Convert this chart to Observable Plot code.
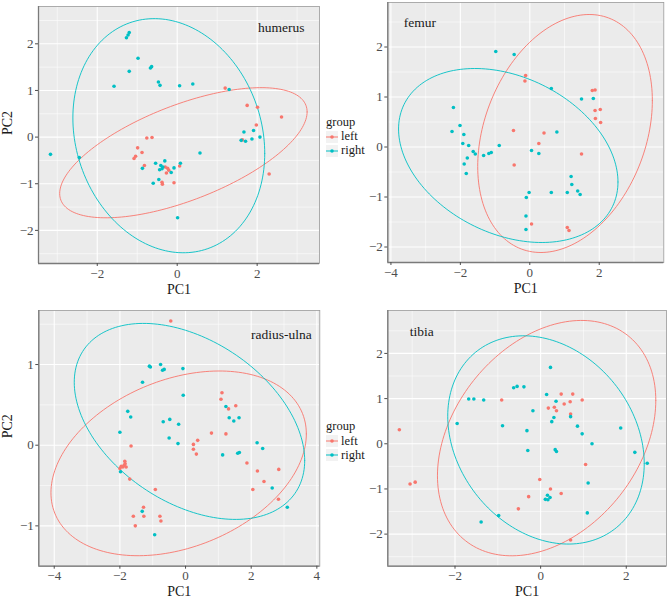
<!DOCTYPE html>
<html><head><meta charset="utf-8">
<script src="https://cdn.jsdelivr.net/npm/d3@7"></script>
<script src="https://cdn.jsdelivr.net/npm/@observablehq/plot@0.6"></script>
<style>
html,body{margin:0;padding:0;background:#fff;}
#wrap{position:relative;width:669px;height:601px;font-family:'Liberation Serif','Times New Roman',Times,'DejaVu Serif',serif;}
#wrap svg{position:absolute;}
#wrap svg text{font-family:'Liberation Serif','Times New Roman',Times,'DejaVu Serif',serif;}
.leg{position:absolute;font-size:12.5px;color:#1a1a1a;line-height:11px;height:11px;white-space:nowrap;font-family:'Liberation Serif','Times New Roman',Times,'DejaVu Serif',serif;}
</style></head><body><div id="wrap"></div>
<script>
// ---------- data (PC1, PC2) ----------
const groups = ["left", "right"];
const colors = ["#F8766D", "#00BFC4"];

const humerusLeft = [[1.2,1.05],[1.75,0.68],[2.01,0.64],[1.98,0.26],[2.61,0.43],[2.3,-0.79],[1.63,-0.06],
 [-0.76,-0.02],[-0.63,-0.01],[-0.99,-0.23],[-0.88,-0.33],[-1.04,-0.41],[-1.08,-0.46],[-0.82,-0.61],
 [-0.3,-0.64],[-0.24,-0.67],[-0.21,-0.71],[-0.27,-0.77],[-0.38,-0.97],[-0.37,-1.01],[-0.08,-0.98],[0.06,-0.62]];
const humerusRight = [[-3.17,-0.37],[-2.45,-0.44],[-1.58,1.09],[-1.27,2.13],[-1.23,2.19],[-1.2,2.24],[-1.2,1.41],
 [-0.98,1.69],[-0.67,1.48],[-0.64,1.51],[-0.47,1.18],[-0.43,1.11],[0.06,1.1],[0.39,1.14],[1.3,1.02],[0.57,-0.34],
 [-0.87,-0.67],[-0.54,-0.56],[-0.44,-0.7],[-0.41,-0.61],[-0.38,-0.68],[-0.36,-0.64],[-0.31,-0.51],[-0.46,-0.91],
 [-0.6,-0.99],[-0.15,-0.76],[-0.08,-0.66],[0.08,-0.56],[0.01,-1.73],[1.6,-0.07],[1.71,-0.09],[1.67,0.11],
 [1.87,-0.04],[1.91,0.14],[2.07,0.0]];

const femurLeft = [[-0.12,1.43],[-0.14,1.32],[-0.47,0.33],[-0.45,-0.36],[0.41,0.28],[0.26,0.07],[1.49,-0.14],
 [1.8,1.13],[1.88,1.14],[1.88,0.73],[2.03,0.75],[1.89,0.57],[2.04,0.49],[0.05,-1.54],[1.08,-1.61],[1.13,-1.67]];
const femurRight = [[-0.98,1.91],[-0.45,1.85],[0.62,1.17],[1.49,0.96],[1.83,0.97],[-2.2,0.79],[-2.24,0.31],
 [-2.01,0.43],[-1.9,0.25],[-1.93,0.07],[-1.76,0.03],[-1.63,-0.09],[-1.57,-0.14],[-1.33,-0.17],[-1.18,-0.13],
 [-1.11,-0.11],[-0.88,0.03],[-1.89,-0.34],[-1.8,-0.22],[-1.83,-0.53],[0.78,0.3],[0.05,-0.07],[0.26,-0.13],
 [1.19,-0.59],[1.21,-0.75],[-0.02,-0.91],[-0.1,-1.01],[0.62,-0.91],[1.08,-0.91],[1.38,-0.88],[1.45,-0.95],
 [-0.11,-1.38],[-0.11,-1.65]];

const radiusLeft = [[-0.45,1.54],[1.11,0.65],[1.08,0.57],[1.53,0.49],[1.31,0.45],[0.79,0.15],[1.23,0.14],
 [0.24,0.01],[0.24,-0.05],[0.37,0.06],[0.33,-0.11],[-1.66,-0.01],[1.87,-0.22],[2.19,-0.32],[2.39,-0.45],
 [2.84,-0.3],[2.05,-0.55],[2.83,-0.67],[-1.85,-0.2],[-1.84,-0.23],[-1.87,-0.25],[-1.81,-0.27],[-1.91,-0.27],
 [-1.96,-0.26],[-2.0,-0.29],[-1.7,-0.42],[-0.92,-0.55],[-1.28,-0.77],[-1.27,-0.88],[-1.59,-0.88],[-1.53,-1.0],
 [-0.78,-0.88],[-0.75,-0.94]];
const radiusRight = [[-1.1,0.98],[-1.07,0.97],[-0.76,1.0],[-0.7,0.93],[-0.65,0.94],[-0.08,0.95],[-1.31,0.78],
 [-0.07,0.62],[-1.76,0.42],[-1.67,0.35],[-2.0,0.16],[-0.48,0.32],[-0.68,0.29],[-0.21,0.26],[-0.5,0.09],
 [-0.23,0.02],[1.23,0.48],[1.33,0.34],[1.47,0.3],[1.63,0.34],[1.13,-0.12],[1.59,-0.1],[1.64,-0.09],[2.18,0.03],
 [2.35,-0.04],[2.64,-0.53],[3.1,-0.77],[-1.98,-0.33],[-1.32,-0.82],[-0.94,-1.11]];

const tibiaLeft = [[-3.3,0.31],[-3.05,-0.89],[-2.93,-0.85],[-0.91,0.97],[0.18,0.79],[0.32,0.81],[0.37,0.73],
 [0.48,1.1],[0.75,1.1],[0.55,0.88],[0.69,0.93],[0.97,0.97],[0.7,0.66],[1.05,-0.46],[-0.02,-0.79],[0.23,-1.0],
 [0.48,-1.1],[-0.28,-1.17],[-0.52,-1.44],[0.7,-2.13]];
const tibiaRight = [[0.23,1.69],[-0.63,1.24],[-0.55,1.27],[-0.39,1.26],[0.14,1.09],[-1.68,0.99],[-1.56,0.99],
 [-1.33,0.97],[0.36,0.94],[-0.18,0.73],[0.7,0.6],[0.31,0.58],[0.26,0.49],[-1.95,0.45],[-0.89,0.4],[-0.32,0.29],
 [0.86,0.39],[0.97,0.22],[1.2,0.0],[1.87,0.35],[2.2,-0.19],[2.49,-0.43],[-0.3,-0.15],[0.34,-0.13],[0.37,-0.17],
 [1.11,-0.87],[0.16,-1.14],[0.11,-1.23],[0.17,-1.24],[0.22,-1.19],[1.09,-1.53],[-0.98,-1.59],[-1.39,-1.73]];

// 95% ellipses: [xmin, xmax, ymin, ymax, y at xmax]
const humerusEllipses = [[-2.94,3.25,-1.73,1.06,0.54],[-2.61,2.19,-2.48,2.54,-0.35]];
const femurEllipses   = [[-1.5,3.53,-2.11,2.65,0.93],[-3.78,2.54,-1.91,1.57,-0.7]];
const radiusEllipses  = [[-4.1,3.68,-1.37,0.92,0.14],[-3.39,3.63,-0.92,1.51,-0.19]];
const tibiaEllipses   = [[-2.41,2.69,-2.48,2.73,0.96],[-2.17,2.42,-2.22,2.39,-0.44]];

const panelNames = ["humerus", "femur", "radius-ulna", "tibia"];
const xTitle = "PC1", yTitle = "PC2", legendTitle = "group";

// ---------- helpers ----------
const FONT = "'Liberation Serif','Times New Roman',Times,'DejaVu Serif',serif";
const fmt = d3.format("d");
function ellipse(p) {
  const [xmin, xmax, ymin, ymax, yR] = p;
  const cx = (xmin + xmax) / 2, rx = (xmax - xmin) / 2;
  const cy = (ymin + ymax) / 2, ry = (ymax - ymin) / 2;
  const d = Math.acos(Math.max(-1, Math.min(1, (yR - cy) / ry)));
  return d3.range(0, 181).map(i => {
    const t = 2 * Math.PI * i / 180;
    return {x: cx + rx * Math.cos(t), y: cy + ry * Math.cos(t - d)};
  });
}
function minorOf(ticks, step) { return ticks.map(t => t + step / 2).concat([ticks[0] - step / 2]); }

const wrap = document.getElementById("wrap");

function panel(o) {
  const mL = o.px[0] - o.left, mR = o.left + o.width - o.px[1];
  const mT = o.py[0] - o.top, mB = o.top + o.height - o.py[1];
  const xMinor = minorOf(o.xTicks, o.xStep).filter(v => v > o.xDomain[0] && v < o.xDomain[1]);
  const yMinor = minorOf(o.yTicks, o.yStep).filter(v => v > o.yDomain[0] && v < o.yDomain[1]);
  const marks = [
    Plot.frame({fill: "#EBEBEB", stroke: null}),
    Plot.gridX(xMinor, {stroke: "white", strokeOpacity: 1, strokeWidth: 0.55}),
    Plot.gridY(yMinor, {stroke: "white", strokeOpacity: 1, strokeWidth: 0.55}),
    Plot.gridX(o.xTicks, {stroke: "white", strokeOpacity: 1, strokeWidth: 1.1}),
    Plot.gridY(o.yTicks, {stroke: "white", strokeOpacity: 1, strokeWidth: 1.1}),
    Plot.line(ellipse(o.ell[0]), {x: "x", y: "y", stroke: colors[0], strokeWidth: 0.9}),
    Plot.line(ellipse(o.ell[1]), {x: "x", y: "y", stroke: colors[1], strokeWidth: 0.9}),
    Plot.dot(o.left_, {x: d => d[0], y: d => d[1], r: 1.8, fill: colors[0], stroke: null}),
    Plot.dot(o.right_, {x: d => d[0], y: d => d[1], r: 1.8, fill: colors[1], stroke: null}),
    Plot.frame({stroke: "#9a9a9a", strokeWidth: 0.8}),
    Plot.ruleX([o.xDomain[0]], {stroke: "#7a7a7a", strokeWidth: 1.3}),
    Plot.ruleY([o.yDomain[0]], {stroke: "#7a7a7a", strokeWidth: 1.3}),
    Plot.axisX(o.xTicks, {tickSize: 3, tickPadding: 2, label: null, tickFormat: fmt, color: "#4D4D4D", fontSize: 13}),
    Plot.axisY(o.yTicks, {tickSize: 3, tickPadding: 2, label: null, tickFormat: fmt, color: "#4D4D4D", fontSize: 13}),
    Plot.text([xTitle], {frameAnchor: "bottom", dy: 30, fontSize: 14, fill: "#1a1a1a"}),
    Plot.text([o.name], {frameAnchor: o.nameAnchor, dx: o.nameDx, dy: o.nameDy, fontSize: 13.5, fill: "#1a1a1a",
      textAnchor: o.nameAnchor === "top-right" ? "end" : "start"})
  ];
  if (o.yTitle) marks.push(Plot.text([yTitle], {frameAnchor: "left", dx: -31, rotate: -90, fontSize: 14, fill: "#1a1a1a"}));
  const svg = Plot.plot({
    width: o.width, height: o.height,
    marginLeft: mL, marginRight: mR, marginTop: mT, marginBottom: mB,
    x: {domain: o.xDomain}, y: {domain: o.yDomain},
    style: {fontFamily: FONT, fontSize: "13px", background: "transparent", overflow: "visible"},
    marks
  });
  svg.setAttribute("font-family", FONT);
  svg.style.left = o.left + "px";
  svg.style.top = o.top + "px";
  wrap.appendChild(svg);
}

panel({left: 0, top: 0, width: 325, height: 300, px: [38, 319], py: [6, 263],
  xDomain: [-3.47, 3.56], yDomain: [-2.71, 2.80], xTicks: [-2, 0, 2], xStep: 2, yTicks: [-2, -1, 0, 1, 2], yStep: 1,
  left_: humerusLeft, right_: humerusRight, ell: humerusEllipses,
  name: panelNames[0], nameAnchor: "top-right", nameDx: -15, nameDy: 16, yTitle: true});

panel({left: 345, top: 0, width: 324, height: 300, px: [387.3, 663.3], py: [2, 262],
  xDomain: [-4.09, 3.86], yDomain: [-2.31, 2.89], xTicks: [-4, -2, 0, 2], xStep: 2, yTicks: [-2, -1, 0, 1, 2], yStep: 1,
  left_: femurLeft, right_: femurRight, ell: femurEllipses,
  name: panelNames[1], nameAnchor: "top-left", nameDx: 16, nameDy: 15, yTitle: false});

panel({left: 0, top: 300, width: 325, height: 301, px: [38.3, 319.3], py: [310, 565.7],
  xDomain: [-4.47, 4.09], yDomain: [-1.50, 1.67], xTicks: [-4, -2, 0, 2, 4], xStep: 2, yTicks: [-1, 0, 1], yStep: 1,
  left_: radiusLeft, right_: radiusRight, ell: radiusEllipses,
  name: panelNames[2], nameAnchor: "top-right", nameDx: -8, nameDy: 19, yTitle: true});

panel({left: 345, top: 300, width: 324, height: 301, px: [387.3, 666], py: [310, 565.7],
  xDomain: [-3.57, 2.94], yDomain: [-2.71, 2.95], xTicks: [-2, 0, 2], xStep: 2, yTicks: [-2, -1, 0, 1, 2], yStep: 1,
  left_: tibiaLeft, right_: tibiaRight, ell: tibiaEllipses,
  name: panelNames[3], nameAnchor: "top-left", nameDx: 22, nameDy: 16, yTitle: false});

// ---------- legends ----------
function legend(x, y) {
  const t = document.createElement("div");
  t.className = "leg"; t.textContent = legendTitle;
  t.style.left = x + "px"; t.style.top = (y - 6.5) + "px";
  wrap.appendChild(t);
  groups.forEach((g, i) => {
    const cy = y + 13.5 + i * 14;
    const key = document.createElementNS("http://www.w3.org/2000/svg", "svg");
    key.setAttribute("width", 12); key.setAttribute("height", 12);
    key.style.left = x + "px"; key.style.top = (cy - 6) + "px";
    key.innerHTML = `<rect width="12" height="12" fill="#F2F2F2"/><line x1="0" x2="12" y1="6" y2="6" stroke="${colors[i]}" stroke-width="1"/><circle cx="6" cy="6" r="1.8" fill="${colors[i]}"/>`;
    wrap.appendChild(key);
    const l = document.createElement("div");
    l.className = "leg"; l.textContent = g;
    l.style.left = (x + 15) + "px"; l.style.top = (cy - 5.5) + "px";
    wrap.appendChild(l);
  });
}
legend(326, 123);
legend(326, 427.5);
</script></body></html>
